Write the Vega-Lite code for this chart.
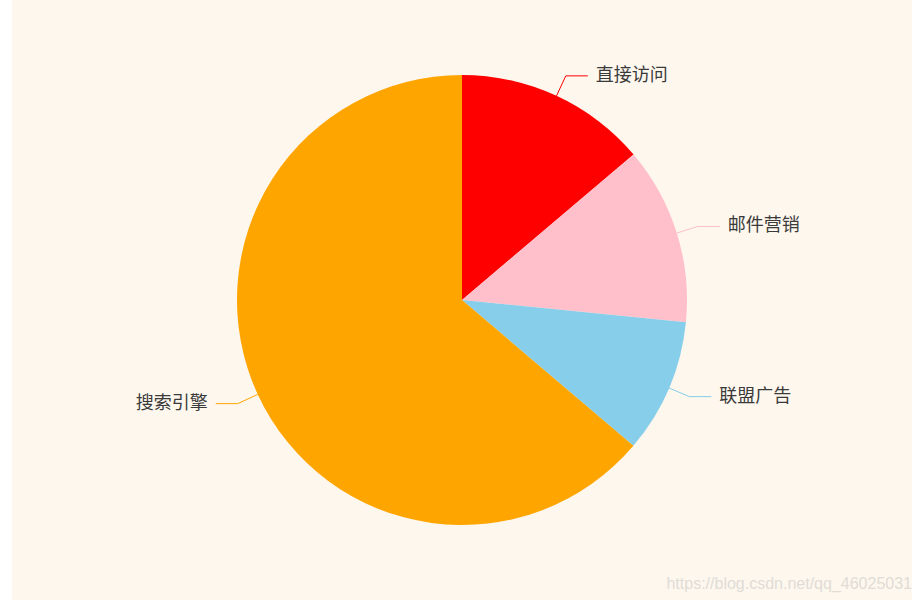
{
  "$schema": "https://vega.github.io/schema/vega-lite/v6.json",
  "width": 900,
  "height": 600,
  "autosize": {"type": "none"},
  "padding": {"left": 12, "top": 0, "right": 7, "bottom": 3},
  "background": "#ffffff",
  "config": {"view": {"fill": "#fef7ee", "stroke": null}},
  "title": {
    "text": "https://blog.csdn.net/qq_46025031",
    "orient": "bottom",
    "anchor": "end",
    "offset": -24,
    "fontSize": 16,
    "font": "Liberation Sans",
    "fontWeight": "normal",
    "color": "#e0dcd6"
  },
  "data": {
    "values": [
      {"category": "直接访问", "value": 335},
      {"category": "邮件营销", "value": 310},
      {"category": "联盟广告", "value": 234},
      {"category": "搜索引擎", "value": 1548}
    ]
  },
  "transform": [
    {"window": [{"op": "row_number", "as": "idx"}, {"op": "sum", "field": "value", "as": "cum"}], "frame": [null, 0]},
    {"joinaggregate": [{"op": "sum", "field": "value", "as": "total"}]},
    {"calculate": "2 * PI * (datum.cum - datum.value / 2) / datum.total", "as": "mid"},
    {"calculate": "sin(datum.mid)", "as": "sx"},
    {"calculate": "cos(datum.mid)", "as": "cy"},
    {"calculate": "225 * datum.sx", "as": "x0"},
    {"calculate": "225 * datum.cy", "as": "y0"},
    {"calculate": "247 * datum.sx", "as": "x1"},
    {"calculate": "247 * datum.cy", "as": "y1"},
    {"calculate": "datum.x1 + (datum.sx > 0 ? 22 : -22)", "as": "x2"},
    {"calculate": "datum.x1 + (datum.sx > 0 ? 30 : -30)", "as": "xt"}
  ],
  "layer": [
    {
      "mark": {"type": "arc", "outerRadius": 225},
      "encoding": {
        "theta": {"field": "value", "type": "quantitative", "stack": true},
        "order": {"field": "idx", "type": "quantitative"},
        "color": {
          "field": "category", "type": "nominal",
          "scale": {"domain": ["直接访问", "邮件营销", "联盟广告", "搜索引擎"], "range": ["#ff0000", "#ffc0cb", "#87ceeb", "#ffa500"]},
          "legend": null
        }
      }
    },
    {
      "mark": {"type": "rule", "strokeWidth": 1},
      "encoding": {
        "x": {"field": "x0", "type": "quantitative", "scale": {"domain": [-450, 450], "nice": false, "zero": false}, "axis": null},
        "y": {"field": "y0", "type": "quantitative", "scale": {"domain": [-300, 300], "nice": false, "zero": false}, "axis": null},
        "x2": {"field": "x1"},
        "y2": {"field": "y1"},
        "color": {"field": "category", "type": "nominal"}
      }
    },
    {
      "mark": {"type": "rule", "strokeWidth": 1},
      "encoding": {
        "x": {"field": "x1", "type": "quantitative"},
        "y": {"field": "y1", "type": "quantitative"},
        "x2": {"field": "x2"},
        "y2": {"field": "y1"},
        "color": {"field": "category", "type": "nominal"}
      }
    },
    {
      "transform": [{"filter": "datum.sx > 0"}],
      "mark": {"type": "text", "align": "left", "baseline": "middle", "fontSize": 18, "font": "Noto Sans CJK SC", "fill": "#3a3a3a"},
      "encoding": {
        "x": {"field": "xt", "type": "quantitative"},
        "y": {"field": "y1", "type": "quantitative"},
        "text": {"field": "category"}
      }
    },
    {
      "transform": [{"filter": "datum.sx <= 0"}],
      "mark": {"type": "text", "align": "right", "baseline": "middle", "fontSize": 18, "font": "Noto Sans CJK SC", "fill": "#3a3a3a"},
      "encoding": {
        "x": {"field": "xt", "type": "quantitative"},
        "y": {"field": "y1", "type": "quantitative"},
        "text": {"field": "category"}
      }
    }
  ],
  "resolve": {"scale": {"color": "shared"}}
}
